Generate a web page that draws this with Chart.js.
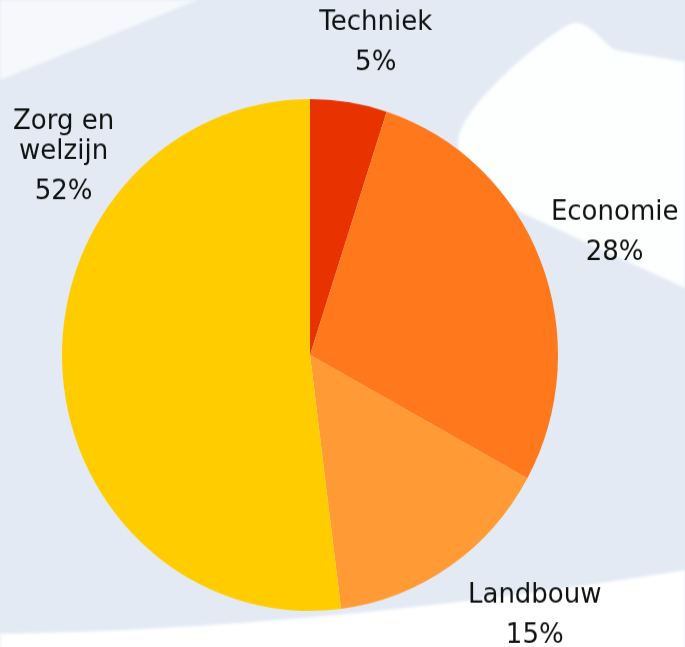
<!DOCTYPE html>
<html>
<head>
<meta charset="utf-8">
<script src="https://cdn.jsdelivr.net/npm/chart.js@4.4.1/dist/chart.umd.min.js"></script>
<style>
  html,body{margin:0;padding:0;background:#fff;}
  #stage{position:relative;width:685px;height:647px;overflow:hidden;}
  #bg{position:absolute;left:0;top:0;}
  #wrap{position:absolute;left:0;top:0;width:685px;height:627px;transform:scaleY(1.0319);transform-origin:0 0;}
</style>
</head>
<body>
<div id="stage">
  <svg id="bg" width="685" height="647" viewBox="0 0 685 647">
    <defs><filter id="soft"><feGaussianBlur stdDeviation="1.5"/></filter></defs>
    <rect x="0" y="0" width="685" height="647" fill="#e3eaf3"/>
    <g filter="url(#soft)">
      <path d="M0,0 L198,0 L0,80 Z" fill="#f6f8fb"/>
      <path d="M458,145 C455,110 540,40 568,25 C585,15 600,40 615,50 L685,62 L685,288 L520,212 C495,195 462,175 458,145 Z" fill="#fdfefe"/>
      <path d="M0,634 Q330,628 685,570 L685,660 L0,660 Z" fill="#ffffff"/>
    </g>
  </svg>
  <div id="wrap"><canvas id="pie"></canvas></div>
</div>
<script>
// gegevens
const categories = ['Techniek', 'Economie', 'Landbouw', 'Zorg en welzijn'];
const labelLines = [['Techniek'], ['Economie'], ['Landbouw'], ['Zorg en', 'welzijn']];
const shares = [5, 28, 15, 52];
const sliceColors = ['#e83200', '#ff781b', '#ff9a35', '#ffcc00'];

// labels staan buiten de taart, iets verschoven zoals in het origineel
const labelNudge = [[16, 19], [9, 6], [46, -4], [71, -205]];

const pieLabels = {
  id: 'pieLabels',
  afterDatasetsDraw(chart){
    const ctx = chart.ctx;
    const meta = chart.getDatasetMeta(0);
    const total = shares.reduce((a,b)=>a+b, 0);
    ctx.save();
    ctx.font = '26px "DejaVu Sans", Verdana, sans-serif';
    ctx.fillStyle = '#111';
    ctx.textAlign = 'center';
    ctx.textBaseline = 'alphabetic';
    meta.data.forEach((arc, i)=>{
      const p = arc.getProps(['x','y','startAngle','endAngle','outerRadius'], true);
      const mid = (p.startAngle + p.endAngle) / 2;
      const r = p.outerRadius + 70;
      const cx = p.x + Math.cos(mid) * r + labelNudge[i][0];
      const cy = p.y + Math.sin(mid) * r + labelNudge[i][1];
      const lines = labelLines[i];
      const span = (lines.length - 1) * 29 + 39;
      let y = cy - span / 2;
      lines.forEach(t=>{ ctx.fillText(t, cx, y); y += 29; });
      y += 10;
      ctx.fillText(Math.round(shares[i] / total * 100) + '%', cx, y);
    });
    ctx.restore();
  }
};

new Chart(document.getElementById('pie'), {
  type: 'pie',
  data: {
    labels: categories,
    datasets: [{ data: shares, backgroundColor: sliceColors, borderWidth: 0 }]
  },
  options: {
    responsive: true,
    maintainAspectRatio: false,
    animation: false,
    layout: { padding: { left: 62, right: 127, top: 96, bottom: 35 } },
    plugins: { legend: { display: false }, tooltip: { enabled: false } }
  },
  plugins: [pieLabels]
});
</script>
</body>
</html>
